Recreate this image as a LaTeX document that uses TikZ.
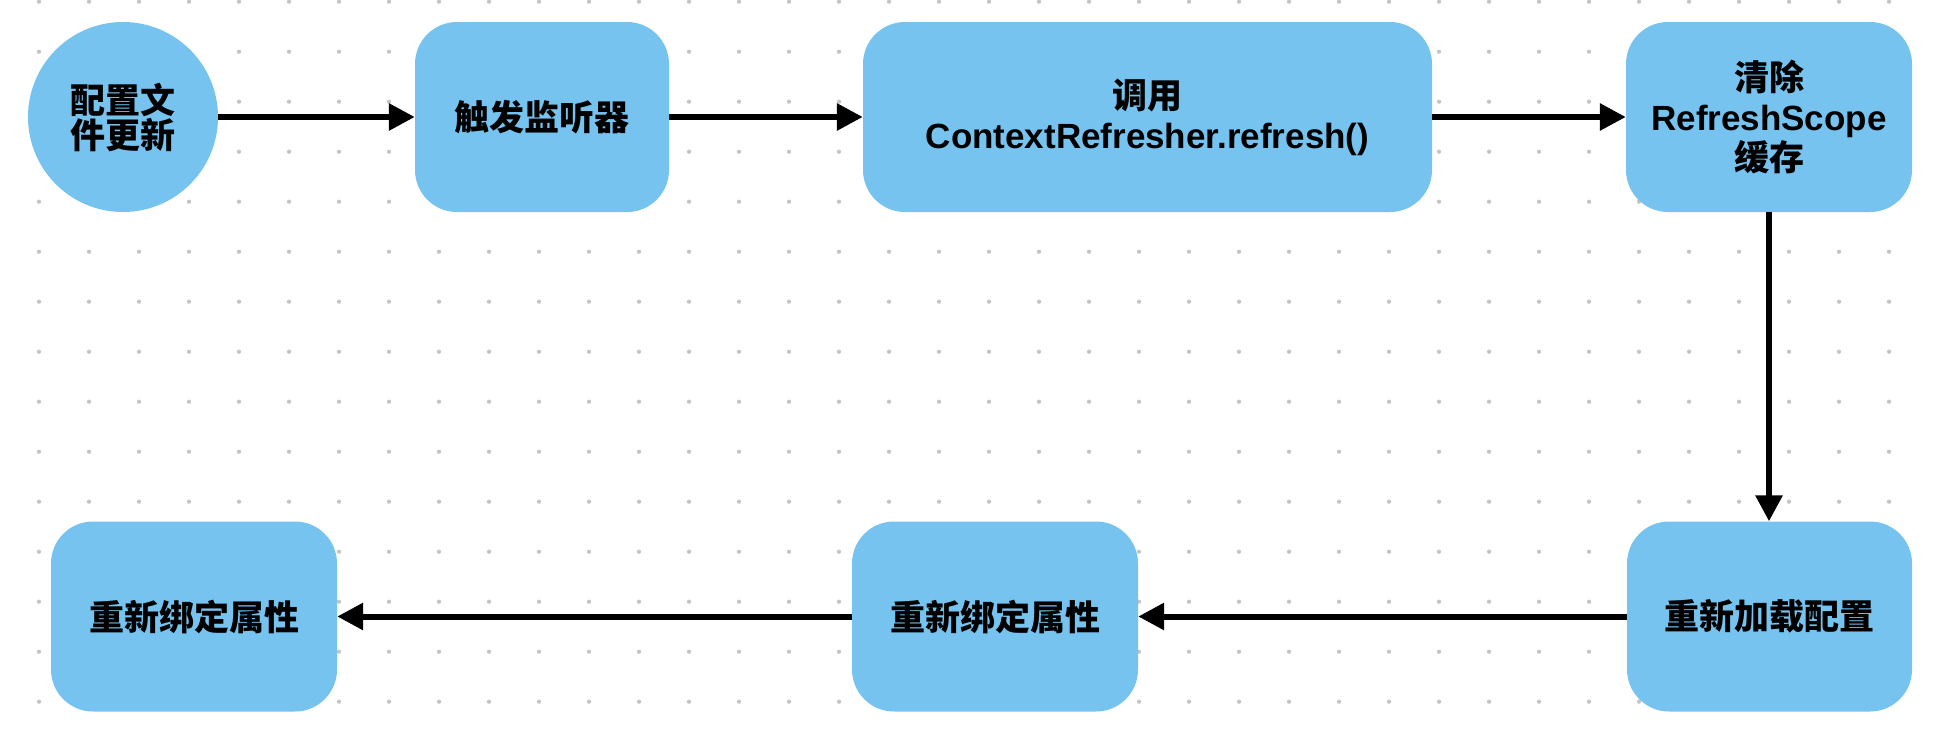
\documentclass[tikz,border=0pt]{standalone}
\usepackage{fontspec}
\setmainfont{Liberation Sans}
\newfontfamily\cjk{Noto Sans CJK SC}
\usetikzlibrary{arrows.meta}
\definecolor{boxblue}{HTML}{76C3F0}
\definecolor{dotgray}{HTML}{C4C4C4}
\newcommand\zhf{\cjk\bfseries\fontsize{35}{40}\selectfont}
\newcommand\zhcirc{\cjk\bfseries\fontsize{35}{35}\selectfont}
\newcommand\enf{\normalfont\bfseries\fontsize{35}{40}\selectfont}
\begin{document}
\begin{tikzpicture}[x=1pt,y=-1pt,
  box/.style={rectangle, rounded corners=42pt, fill=boxblue, minimum height=190pt, inner sep=0pt, align=center, font=\zhf},
  startnode/.style={circle, fill=boxblue, minimum size=190pt, inner sep=0pt, align=center, font=\zhcirc},
  arr/.style={line width=6pt, -{Triangle[length=26pt,width=26pt]}}]
\fill[white] (0,0) rectangle (1934,728);
\useasboundingbox (0,0) rectangle (1934,728);
\foreach \i in {0,...,37}{
  \foreach \j in {0,...,14}{
    \fill[dotgray] ({39+50*\i},{1.7+50*\j}) circle (2.1pt);
  }
}
\node[startnode] (c1) at (123,117) {配置文\\件更新};
\node[box, minimum width=254pt] (b2) at (542,117) {触发监听器};
\node[box, minimum width=569pt] (b3) at (1147.5,117) {调用\\{\enf ContextRefresher.refresh()}};
\node[box, minimum width=286pt] (b4) at (1769,117) {清除\\{\enf RefreshScope}\\缓存};
\node[box, minimum width=285pt] (b5) at (1769.5,616.5) {重新加载配置};
\node[box, minimum width=286pt] (b6) at (995,616.5) {重新绑定属性};
\node[box, minimum width=286pt] (b7) at (194,616.5) {重新绑定属性};
\draw[arr] (c1) -- (b2);
\draw[arr] (b2) -- (b3);
\draw[arr] (b3) -- (b4);
\draw[arr] (b4.south) -- (b4.south |- b5.north);
\draw[arr] (b5) -- (b6);
\draw[arr] (b6) -- (b7);
\end{tikzpicture}
\end{document}
